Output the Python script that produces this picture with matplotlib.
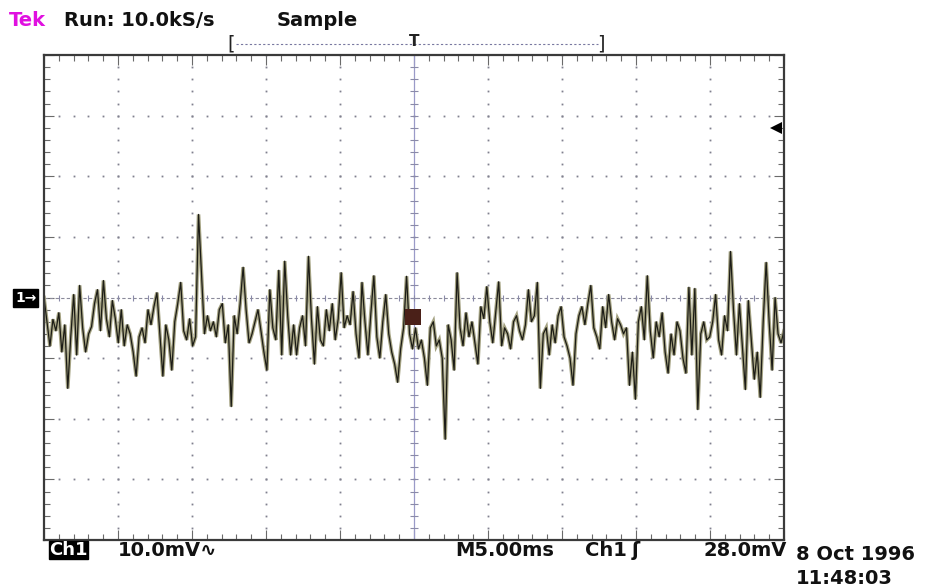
import numpy as np
import matplotlib
matplotlib.use("Agg")
import matplotlib.pyplot as plt

# Ch1 trace, mV relative to the channel marker, 250 samples over 50 ms
trace_mv = [
    0.0, -4.0, -8.0, -3.6, -5.5, -2.5, -9.0, -4.5, -15.0, -6.5,
    0.5, -9.5, 2.0, -5.0, -9.0, -6.0, -4.8, -1.0, 1.3, -5.5,
    2.8, -3.5, -6.5, -0.5, -3.5, -7.5, -2.0, -8.0, -4.5, -6.0,
    -9.0, -13.0, -6.5, -5.0, -7.5, -2.0, -4.5, -1.5, 0.8, -6.0,
    -13.0, -4.5, -7.0, -12.0, -4.0, -1.0, 2.5, -5.5, -7.0, -3.5,
    -8.0, -6.5, 13.7, 4.0, -6.0, -3.0, -5.5, -4.0, -6.5, -2.0,
    -1.0, -7.5, -4.5, -18.0, -3.0, -6.0, -1.0, 5.0, -2.0, -7.5,
    -6.0, -4.0, -2.0, -5.5, -9.0, -12.0, 1.3, -5.0, -7.0, 4.5,
    -9.5, 6.0, -3.0, -9.5, -4.5, -9.5, -5.0, -3.0, -8.0, 6.8,
    -3.5, -11.0, -1.5, -7.0, -8.0, -2.0, -5.5, -1.0, -7.0, -3.5,
    4.1, -5.0, -3.0, -4.5, 1.0, -6.0, -10.0, 2.5, -4.0, -9.5,
    -2.5, 3.6, -6.5, -10.0, -4.0, 0.5, -6.0, -9.0, -11.0, -14.0,
    -8.5, -5.0, 3.5, -6.0, -8.5, -5.0, -8.5, -7.0, -10.0, -14.5,
    -5.0, -4.0, -8.0, -7.0, -10.0, -23.4, -4.5, -7.0, -12.0, 4.1,
    -5.0, -8.0, -2.5, -6.5, -4.0, -7.5, -11.0, -1.5, -3.5, 1.8,
    -4.0, -7.5, -2.5, 2.6, -8.0, -5.0, -6.0, -8.5, -4.0, -3.0,
    -5.5, -7.0, -4.5, 1.3, -4.0, -3.0, 2.5, -15.0, -6.0, -5.0,
    -9.5, -4.5, -7.5, -3.0, -1.5, -6.5, -8.0, -10.0, -14.5, -6.0,
    -3.0, -1.5, -4.5, -1.0, 2.0, -5.0, -6.5, -8.5, -1.5, -5.0,
    0.5, -4.0, -7.0, -3.5, -4.5, -6.0, -5.0, -14.5, -9.0, -16.8,
    -4.0, -1.5, -7.0, 3.6, -5.5, -10.0, -4.0, -6.5, -2.5, -9.0,
    -12.5, -6.0, -9.5, -4.0, -5.5, -10.0, -12.5, 1.7, -9.5, 1.5,
    -18.5, -6.0, -4.0, -7.0, -6.5, -4.0, 0.5, -7.0, -9.5, -3.0,
    -5.5, 7.6, -2.0, -9.5, -1.0, -8.0, -15.2, -0.5, -7.0, -13.5,
    -9.0, -16.5, -4.0, 5.8, -4.0, -12.0, 0.0, -6.0, -7.5, -5.5,
]
time_window_ms = 50.0
ms_per_div = 5.0
mv_per_div = 10.0
trigger_level_mv = 28.0
trigger_pos_ms = 25.0

W, H = 928, 588
fig = plt.figure(figsize=(W / 100, H / 100), dpi=100)
fig.patch.set_facecolor("white")


def fx(x):
    return x / W


def fy(y):
    return 1 - y / H


ax = fig.add_axes([fx(44), fy(540), 740 / W, 485 / H])
ax.set_xlim(0, time_window_ms)
ax.set_ylim(-4 * mv_per_div, 4 * mv_per_div)

# graticule: dotted divisions
grid_col = "#80808e"
xs_major = np.arange(0, time_window_ms + 0.01, ms_per_div)
ys_major = np.arange(-4 * mv_per_div, 4 * mv_per_div + 0.01, mv_per_div)
xs_minor = np.arange(0, time_window_ms + 0.01, ms_per_div / 5)
ys_minor = np.arange(-4 * mv_per_div, 4 * mv_per_div + 0.01, mv_per_div / 5)
for yv in ys_major[1:-1]:
    if yv == 0:
        continue
    ax.plot(xs_minor, np.full_like(xs_minor, yv), ls="none", marker="s",
            ms=1.3, color=grid_col, mew=0)
for xv in xs_major[1:-1]:
    if xv == trigger_pos_ms:
        continue
    ax.plot(np.full_like(ys_minor, xv), ys_minor, ls="none", marker="s",
            ms=1.3, color=grid_col, mew=0)

# centre cross with minor ticks
ax.axhline(0, color="#8a8a9a", lw=0.8, ls=(0, (3, 2)))
ax.axvline(trigger_pos_ms, color="#9a9ac8", lw=0.9)
ax.plot(xs_minor, np.zeros_like(xs_minor), ls="none", marker="|", ms=5,
        color="#8a8aa8", mew=0.8)
ax.plot(np.full_like(ys_minor, trigger_pos_ms), ys_minor, ls="none",
        marker="_", ms=6, color="#8a8aa8", mew=0.8)

# trace
t = np.linspace(0, time_window_ms, len(trace_mv))
ax.plot(t, trace_mv, color="#a4a282", lw=2.6, solid_joinstyle="miter")
ax.plot(t, trace_mv, color="#1c1c16", lw=0.9)

# trigger point marker
ax.plot([trigger_pos_ms - 0.1], [-3.2], marker="s", ms=11, color="#4a2018", mew=0)

# trigger level arrow on the right edge
ax.plot([time_window_ms - 0.55], [trigger_level_mv], marker="<", ms=8,
        color="black", mew=0, clip_on=False)

# frame and edge ticks
for s in ax.spines.values():
    s.set_color("#3a3a3a")
    s.set_linewidth(1.6)
ax.set_xticks(xs_major)
ax.set_yticks(ys_major)
ax.set_xticks(xs_minor, minor=True)
ax.set_yticks(ys_minor, minor=True)
ax.tick_params(which="both", direction="in", top=True, right=True,
               labelbottom=False, labelleft=False, color="#6a6a6a")
ax.tick_params(which="major", length=7, width=0.8)
ax.tick_params(which="minor", length=4, width=0.8)

# header
fs = 14
txt = dict(fontsize=fs, fontweight="bold", color="#111111", va="center")
fig.text(fx(9), fy(21), "Tek", **dict(txt, color="#e010e0"))
fig.text(fx(64), fy(21), "Run: 10.0kS/s", **txt)
fig.text(fx(277), fy(21), "Sample", **txt)

# record-window bracket
fig.text(fx(227), fy(44), "[", fontsize=14, color="#222222", va="center")
fig.text(fx(597), fy(44), "]", fontsize=14, color="#222222", va="center")
fig.add_artist(plt.Line2D([fx(236), fx(598)], [fy(44), fy(44)], color="#7878a0",
                          lw=0.8, ls=(0, (2, 2))))
fig.text(fx(414), fy(41), "T", fontsize=11, fontweight="bold", color="#222222",
         ha="center", va="center")

# channel ground marker
fig.text(fx(15), fy(298), "1\u2192", fontsize=10, fontweight="bold", color="white",
         va="center", bbox=dict(boxstyle="square,pad=0.12", fc="black", ec="black"))

# footer
fig.text(fx(49), fy(550), "Ch1", **dict(txt, fontsize=13, color="white"),
         bbox=dict(boxstyle="square,pad=0.02", fc="black", ec="black"))
fig.text(fx(118), fy(550), "10.0mV\u223f", **txt)
fig.text(fx(455), fy(550), "M5.00ms", **txt)
fig.text(fx(585), fy(550), "Ch1", **txt)
fig.text(fx(632), fy(550), "\u0283", **txt)
fig.text(fx(787), fy(550), "28.0mV", **dict(txt, ha="right"))
fig.text(fx(796), fy(555), "8 Oct 1996", **txt)
fig.text(fx(796), fy(578), "11:48:03", **txt)

fig.savefig("out.png", dpi=100)
